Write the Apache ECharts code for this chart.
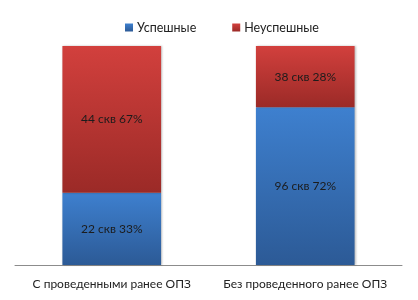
<!DOCTYPE html>
<html>
  <head>
    <meta charset="utf-8" />
    <title>ОПЗ</title>
    <script src="https://cdn.jsdelivr.net/npm/echarts@6/dist/echarts.min.js"></script>
    <style>
      html, body { margin: 0; padding: 0; background: #fff; }
    </style>
  </head>
  <body>
    <div id="main" style="width: 418px; height: 300px"></div>
    <script>
      var categories = ["С проведенными ранее ОПЗ", "Без проведенного ранее ОПЗ"];
      var seriesNames = ["Успешные", "Неуспешные"];
      // число скважин и доля, %
      var okWells = [22, 96];
      var okPct = [33, 72];
      var failWells = [44, 38];
      var failPct = [67, 28];

      function grad(top, bottom) {
        return new echarts.graphic.LinearGradient(0, 0, 0, 1, [
          { offset: 0, color: top },
          { offset: 1, color: bottom }
        ]);
      }

      var blue = grad("#3e80cf", "#2c5a96");
      var red = grad("#d2403d", "#9b2a27");

      function labelOf(wells) {
        return {
          show: true,
          position: "inside",
          color: "#1c1c1c",
          fontSize: 12,
          fontFamily: "Lato",
          formatter: function (p) {
            return wells[p.dataIndex] + " скв " + p.value + "%";
          }
        };
      }

      var chart = echarts.init(document.getElementById("main"));
      chart.setOption({
        backgroundColor: "#fff",
        animation: false,
        textStyle: { fontFamily: "Lato" },
        legend: {
          top: 16,
          left: 120,
          itemGap: 36,
          itemWidth: 8,
          itemHeight: 8,
          icon: "rect",
          textStyle: { fontSize: 12.5, color: "#222", fontFamily: "Lato", padding: [0, 0, 0, -1] },
          data: seriesNames
        },
        grid: { left: 15, right: 16, top: 46, bottom: 35 },
        xAxis: {
          type: "category",
          data: categories,
          axisLine: { lineStyle: { color: "#8c8c8c", width: 1 } },
          axisTick: { show: false },
          axisLabel: { color: "#222", fontSize: 12, margin: 13, interval: 0, fontFamily: "Lato" }
        },
        yAxis: {
          type: "value",
          min: 0,
          max: 100,
          show: false
        },
        series: [
          {
            name: seriesNames[0],
            type: "bar",
            stack: "all",
            barWidth: "51%",
            itemStyle: { color: blue, shadowColor: "rgba(0,0,0,0.25)", shadowBlur: 2, shadowOffsetX: 1 },
            label: labelOf(okWells),
            data: okPct
          },
          {
            name: seriesNames[1],
            type: "bar",
            stack: "all",
            itemStyle: { color: red, shadowColor: "rgba(0,0,0,0.25)", shadowBlur: 2, shadowOffsetX: 1 },
            label: labelOf(failWells),
            data: failPct
          }
        ]
      });
    </script>
  </body>
</html>
